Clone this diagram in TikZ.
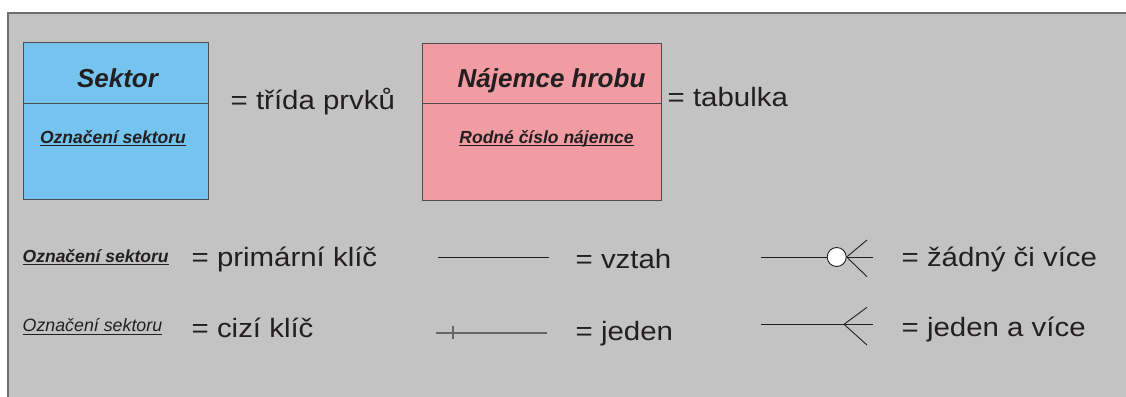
\documentclass[tikz,border=0pt]{standalone}
\usepackage{fontspec}
\setmainfont{Liberation Sans}
\newfontfamily\bigf[FakeStretch=1.11]{Liberation Sans}
\definecolor{panel}{HTML}{C3C3C3}
\definecolor{panelborder}{HTML}{6E6E6E}
\definecolor{ink}{HTML}{231F20}
\definecolor{skyblue}{HTML}{74C4EF}
\definecolor{rosepink}{HTML}{F09CA2}
\definecolor{tickgray}{HTML}{666666}
\newcommand{\ulbox}[1]{\setbox0\hbox{#1}\rlap{\raisebox{-3pt}{\rule{\wd0}{1pt}}}\box0}
\tikzset{
  entity/.style={draw=ink!80, line width=0.9pt, inner sep=0pt},
  title/.style={text=ink, inner sep=0pt, anchor=base, font=\fontsize{26}{26}\selectfont\bfseries\itshape},
  pkey/.style={text=ink, inner sep=0pt, font=\fontsize{17.5}{17.5}\selectfont\bfseries\itshape},
  fkey/.style={text=ink, inner sep=0pt, font=\fontsize{17.8}{17.8}\selectfont\itshape},
  legend/.style={text=ink, inner sep=0pt, anchor=base west, font=\fontsize{26.5}{26.5}\bigf},
  rel/.style={draw=ink, line width=0.9pt},
}
\begin{document}
\begin{tikzpicture}[x=1pt,y=-1pt]
\useasboundingbox (0,0) rectangle (1126,396);
\fill[white] (0,0) rectangle (1126,396);
\begin{scope}
\clip (0,0) rectangle (1126,396);
\draw[panelborder, fill=panel, line width=2pt] (8,13) rectangle (1130,400);
\end{scope}

% entity boxes
\node[entity, fill=skyblue, minimum width=185pt, minimum height=157pt] (sektor) at (115.5,120.5) {};
\draw[ink!80, line width=0.9pt] (sektor.west |- 0,103) -- (sektor.east |- 0,103);
\node[title] (sektorT) at (117.5,87.3) {Sektor};
\node[pkey, anchor=base] (sektorK) at (113,143.3) {\ulbox{Označení sektoru}};
\node[legend] (trida) at (230.5,109) {= třída prvků};

\node[entity, fill=rosepink, minimum width=239pt, minimum height=157pt] (najemce) at (541.5,121.5) {};
\draw[ink!80, line width=0.9pt] (najemce.west |- 0,103) -- (najemce.east |- 0,103);
\node[title] (najemceT) at (551.5,87.3) {Nájemce hrobu};
\node[pkey, anchor=base] (najemceK) at (546.5,143.3) {\ulbox{Rodné číslo nájemce}};
\node[legend] (tabulka) at (667.5,106) {= tabulka};

% keys
\node[pkey, anchor=base west] (pk) at (22.5,262.3) {\ulbox{Označení sektoru}};
\node[legend] (pkL) at (191.5,266) {= primární klíč};
\node[fkey, anchor=base west] (fk) at (22.5,331.7) {\ulbox{Označení sektoru}};
\node[legend] (fkL) at (191.5,337) {= cizí klíč};

% relationship
\coordinate (r1a) at (438,257);
\coordinate (r1b) at (549,257);
\draw[rel] (r1a) -- (r1b);
\node[legend] (vztah) at (575.5,268) {= vztah};

\coordinate (r2a) at (436,333);
\coordinate (r2b) at (547,333);
\coordinate (tickT) at (453,326);
\coordinate (tickB) at (453,339);
\draw[tickgray, line width=1.2pt] (r2a) -- (r2b);
\draw[tickgray, line width=1.1pt] (tickT) -- (tickB);
\node[legend] (jeden) at (575.5,340) {= jeden};

% zero or many
\coordinate (z0) at (761,257);
\node[draw=ink, fill=white, circle, line width=0.9pt, minimum size=19pt, inner sep=0pt] (zc) at (836.7,257) {};
\coordinate (zt) at (867,240);
\coordinate (zb) at (867,276.7);
\coordinate (zm) at (872.7,257);
\draw[rel] (z0) -- (zc.west);
\draw[rel] (zc.east) -- (zt);
\draw[rel] (zc.east) -- (zb);
\draw[rel] (zc.east) -- (zm);
\node[legend] (zadny) at (901.5,266.7) {= žádný či více};

% one or many
\coordinate (o0) at (761,324.3);
\coordinate (oa) at (844,324.3);
\coordinate (ot) at (867,307.3);
\coordinate (ob) at (867,345);
\coordinate (om) at (872.7,324.3);
\draw[rel] (o0) -- (om);
\draw[rel] (oa) -- (ot);
\draw[rel] (oa) -- (ob);
\node[legend] (jedenvice) at (901.5,336.7) {= jeden a více};
\end{tikzpicture}
\end{document}
